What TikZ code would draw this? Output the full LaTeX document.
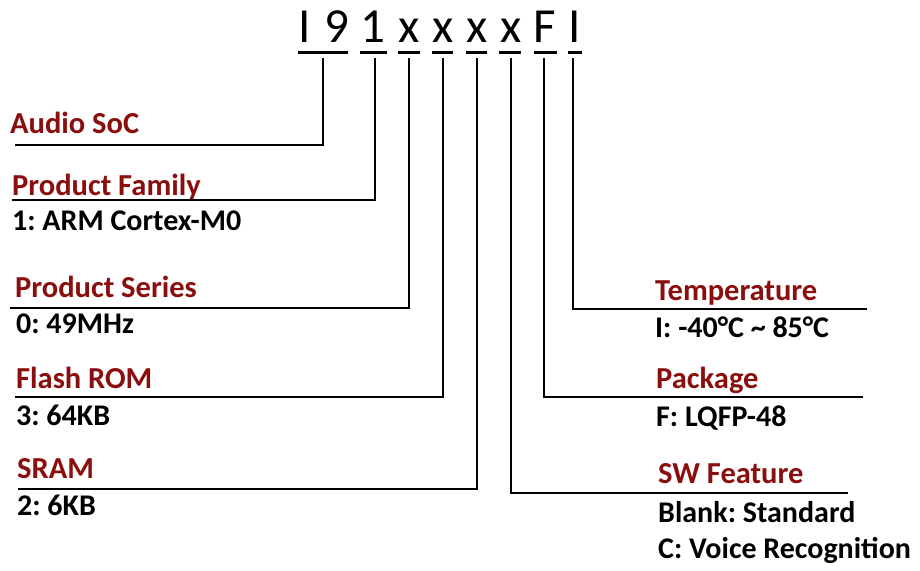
\documentclass[tikz,border=0pt]{standalone}
\usepackage{fontspec}
\setmainfont{Carlito}
\frenchspacing
\definecolor{lblred}{RGB}{139,14,14}
\begin{document}
\begin{tikzpicture}[x=1pt,y=-1pt,
  hdr/.style={font=\fontsize{49}{49}\selectfont, inner sep=0pt, anchor=base},
  lbl/.style={font=\fontsize{30.5}{30.5}\selectfont\bfseries, text=lblred, inner sep=0pt, anchor=base west},
  val/.style={font=\fontsize{30}{30}\selectfont\bfseries, text=black, inner sep=0pt, anchor=base west},
  bar/.style={line width=3pt},
  conn/.style={line width=2pt}]
\useasboundingbox (0,0) rectangle (920,570);
% header characters
\node[hdr] (c1) at (305,42) {I};
\node[hdr] (c2) at (337,42) {9};
\node[hdr] (c3) at (373,42) {1};
\node[hdr] (c4) at (409,42) {x};
\node[hdr] (c5) at (443,42) {x};
\node[hdr] (c6) at (477,42) {x};
\node[hdr] (c7) at (511,42) {x};
\node[hdr] (c8) at (545,42) {F};
\node[hdr] (c9) at (575,42) {I};
% underline bars
\coordinate (b1a) at (298,52); \coordinate (b1b) at (348,52);
\coordinate (b2a) at (360,52); \coordinate (b2b) at (387,52);
\coordinate (b3a) at (398,52); \coordinate (b3b) at (420,52);
\coordinate (b4a) at (432,52); \coordinate (b4b) at (453,52);
\coordinate (b5a) at (466,52); \coordinate (b5b) at (487,52);
\coordinate (b6a) at (499,52); \coordinate (b6b) at (521,52);
\coordinate (b7a) at (534,52); \coordinate (b7b) at (557,52);
\coordinate (b8a) at (568,52); \coordinate (b8b) at (582,52);
\foreach \i in {1,...,8} {\draw[bar] (b\i a) -- (b\i b);}
% labels left
\node[lbl] (l1) at (10,133) {Audio SoC};
\node[lbl] (l2) at (12,195) {Product Family};
\node[val] (v2) at (12,230) {1: ARM Cortex-M0};
\node[lbl] (l3) at (15,297) {Product Series};
\node[val] (v3) at (16,333) {0: 49MHz};
\node[lbl] (l4) at (16,388) {Flash ROM};
\node[val] (v4) at (16,425) {3: 64KB};
\node[lbl] (l5) at (17,478) {SRAM};
\node[val] (v5) at (17,515) {2: 6KB};
% labels right
\node[lbl] (l8) at (655,300) {Temperature};
\node[val] (v8) at (655,337) {I: -40°C \textasciitilde{} 85°C};
\node[lbl] (l7) at (656,388) {Package};
\node[val] (v7) at (656,426) {F: LQFP-48};
\node[lbl] (l6) at (658,483) {SW Feature};
\node[val] (v6a) at (658,522) {Blank: Standard};
\node[val] (v6b) at (658,558) {C: Voice Recognition};
% connectors
\coordinate (t1) at (323,58); \coordinate (e1) at (15,145);
\coordinate (t2) at (375,58); \coordinate (e2) at (12,200);
\coordinate (t3) at (409,58); \coordinate (e3) at (10,308);
\coordinate (t4) at (443,58); \coordinate (e4) at (15,397);
\coordinate (t5) at (477,58); \coordinate (e5) at (18,489);
\coordinate (t6) at (511,58); \coordinate (e6) at (848,493);
\coordinate (t7) at (544,58); \coordinate (e7) at (863,397);
\coordinate (t8) at (573,58); \coordinate (e8) at (867,309);
\foreach \i in {1,...,8} {\draw[conn] (t\i) |- (e\i);}
\end{tikzpicture}
\end{document}
